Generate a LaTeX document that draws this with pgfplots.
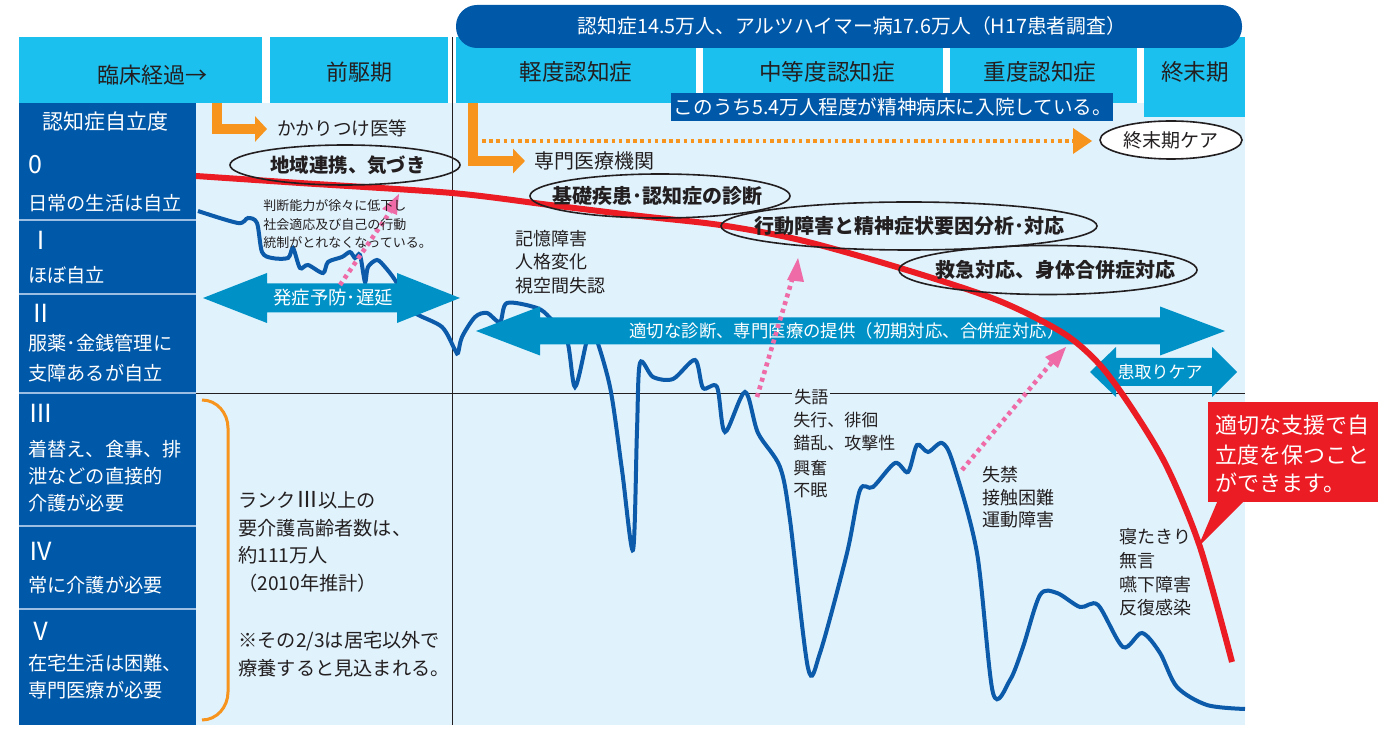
\documentclass[border=0pt]{standalone}
\usepackage{pgfplots}
\pgfplotsset{compat=1.18}
\usepackage{fontspec}
\setmainfont{Noto Sans CJK JP}
\usetikzlibrary{shapes.geometric,arrows.meta}
\definecolor{hcyan}{HTML}{1CC0EF}
\definecolor{dblue}{HTML}{0058A8}
\definecolor{lbg}{HTML}{E0F2FC}
\definecolor{ablue}{HTML}{0092C7}
\definecolor{cblue}{HTML}{0B5BAA}
\definecolor{rred}{HTML}{EC1C24}
\definecolor{orng}{HTML}{F7941D}
\definecolor{pnk}{HTML}{EF6BA8}
\definecolor{txt}{HTML}{231F20}
\definecolor{sep}{HTML}{9DBEE3}
\newcommand{\fs}[1]{\fontsize{#1}{#1}\selectfont}
\begin{document}
\begin{tikzpicture}
\begin{axis}[scale only axis, width=698.5pt, height=365.5pt,
  xmin=0, xmax=1397, ymin=0, ymax=731, y dir=reverse,
  hide axis, clip=false]
\path (0,0) rectangle (1397,731);
% backgrounds
\fill[lbg] (196,103) rectangle (1245,725);
\fill[dblue] (19,103) rectangle (196,725);
\draw[sep, line width=1pt] (19,220) -- (196,220);
\draw[sep, line width=1pt] (19,294) -- (196,294);
\draw[sep, line width=1pt] (19,393) -- (196,393);
\draw[sep, line width=1pt] (19,526) -- (196,526);
\draw[sep, line width=1pt] (19,609) -- (196,609);
% header boxes
\fill[hcyan] (19,37) rectangle (262,103);
\fill[hcyan] (270,37) rectangle (448,103);
\fill[hcyan] (456,37) rectangle (696,103);
\fill[hcyan] (703,37) rectangle (943,103);
\fill[hcyan] (950,37) rectangle (1137,103);
\fill[hcyan] (1144,37) rectangle (1245,117);
\fill[dblue, rounded corners=10.5pt] (456,5) rectangle (1242,48);
\fill[dblue] (671,93) rectangle (1113,121);
% grid lines
\draw[txt, line width=0.5pt] (452,37) -- (452,725);
\draw[txt, line width=0.5pt] (196,394) -- (1245,394);
% header texts
\node[txt, font=\fs{11}] at (152,75) {臨床経過→};
\node[txt, font=\fs{11}] at (359,72) {前駆期};
\node[txt, font=\fs{11.3}] at (576,72) {軽度認知症};
\node[txt, font=\fs{11.3}] at (827,72) {中等度認知症};
\node[txt, font=\fs{11.3}] at (1040,72) {重度認知症};
\node[txt, font=\fs{11.3}] at (1195,72) {終末期};
\node[white, font=\fs{9.9}] at (852,26) {認知症14.5万人、アルツハイマー病17.6万人（H17患者調査）};
\node[white, font=\fs{9.8}] at (893,107) {このうち5.4万人程度が精神病床に入院している。};
% left column
\node[white, font=\fs{10.5}] at (105,122) {認知症自立度};
\begin{scope}[every node/.style={white, anchor=west, inner sep=0pt, font=\fs{9.6}}]
\node at (28,165) {\fs{12.5}0};
\node at (28,203) {日常の生活は自立};
\node at (28,240) {\fs{12.5}Ⅰ};
\node at (28,275) {ほぼ自立};
\node at (28,313) {\fs{12.5}Ⅱ};
\node at (28,343) {服薬･金銭管理に};
\node at (28,373) {支障あるが自立};
\node at (28,413) {\fs{12.5}Ⅲ};
\node at (28,449) {着替え、食事、排};
\node at (28,476) {泄などの直接的};
\node at (28,503) {介護が必要};
\node at (28,551) {\fs{12.5}Ⅳ};
\node at (28,585) {常に介護が必要};
\node at (28,631) {\fs{12.5}Ⅴ};
\node at (28,663) {在宅生活は困難、};
\node at (28,690) {専門医療が必要};
\end{scope}
% orange elements
\draw[orng, line width=5pt, -{Triangle[width=12.5pt,length=6pt]}] (217,103) -- (217,129) -- (267,129);
\draw[orng, line width=5pt, -{Triangle[width=12pt,length=6pt]}] (473,103) -- (473,161) -- (525,161);
\draw[orng, line width=2pt, dash pattern=on 1.8pt off 1.8pt] (482,141) -- (1076,141);
\fill[orng] (1073,128) -- (1092,141) -- (1073,154) -- cycle;
\draw[orng, line width=1.5pt] (202,400) to[out=0,in=90] (228,428) -- (228,692) to[out=-90,in=0] (202,720);
% blue curve
\addplot[cblue, line width=2pt, smooth, tension=0.5] coordinates {
(198,211) (238,223) (248,218) (257,223) (262,252) (272,258) (288,258) (293,248) (300,268) (308,265) (323,273) (328,262) (342,257) (350,252) (355,258) (360,255) (365,282) (368,267) (377,260) (385,267) (395,280) (405,298) (415,313) (442,327) (455,350) (458,353) (462,337) (475,317) (487,313) (500,322) (507,303) (537,308) (550,318) (567,340) (575,387) (587,340) (593,330) (610,387) (622,470) (633,550) (637,430) (640,363) (653,377) (673,379) (695,360) (703,388) (717,387) (725,432) (745,392) (758,433) (780,467) (790,520) (808,668) (820,653) (847,553) (860,490) (873,487) (895,463) (908,472) (917,445) (928,452) (942,443) (953,463) (977,553) (993,693) (1010,680) (1023,647) (1040,595) (1057,593) (1080,607) (1098,605) (1123,647) (1142,633) (1160,653) (1177,687) (1207,705) (1245,709)
};
% big blue arrows
\fill[ablue] (203,298) -- (267,273) -- (267,283.5) -- (397,283.5) -- (397,273) -- (460,298) -- (397,323) -- (397,312.5) -- (267,312.5) -- (267,323) -- cycle;
\fill[ablue] (476,331) -- (540,306.5) -- (540,317.5) -- (1160,317.5) -- (1160,306.5) -- (1225,331) -- (1160,355.5) -- (1160,344.5) -- (540,344.5) -- (540,355.5) -- cycle;
\fill[ablue] (1090,372) -- (1116,347) -- (1116,358) -- (1212,358) -- (1212,347) -- (1237,372) -- (1212,397) -- (1212,386) -- (1116,386) -- (1116,397) -- cycle;
\node[white, font=\fs{9.2}] at (333,298) {発症予防･遅延};
\node[white, font=\fs{8.7}] at (847,331) {適切な診断、専門医療の提供（初期対応、合併症対応）};
\node[white, font=\fs{8.5}] at (1160,372) {患取りケア};
% pink dotted arrows
\draw[pnk, line width=2.3pt, dash pattern=on 2pt off 2pt] (340,285) -- (390,212);
\draw[pnk, line width=2.3pt, dash pattern=on 2pt off 2pt] (757,397) -- (792,280);
\draw[pnk, line width=2.3pt, dash pattern=on 2pt off 2pt] (962,470) -- (1052,362);
\fill[pnk] (399,194) -- (382,209) -- (397,215) -- cycle;
\fill[pnk] (798,258) -- (787,280) -- (804,282) -- cycle;
\fill[pnk] (1066,347) -- (1045,357) -- (1058,368) -- cycle;
% red curve
\addplot[rred, line width=3pt, smooth, tension=0.5] coordinates {
(196,176) (300,183) (452,193) (550,205) (640,216) (720,225) (800,240) (900,268) (997,300) (1063,333) (1100,365) (1133,410) (1167,467) (1200,547) (1232,662)
};
% ellipses
\node[draw=txt, line width=0.8pt, ellipse, minimum width=115pt, minimum height=20pt, inner sep=0pt] at (345,165) {};
\node[draw=txt, line width=0.8pt, ellipse, minimum width=130pt, minimum height=22pt, inner sep=0pt] at (660,196) {};
\node[draw=txt, line width=0.8pt, ellipse, minimum width=188pt, minimum height=24pt, inner sep=0pt] at (909,226) {};
\node[draw=txt, line width=0.8pt, ellipse, minimum width=149pt, minimum height=24.5pt, inner sep=0pt] at (1048,270) {};
\node[draw=txt, fill=white, line width=0.8pt, ellipse, minimum width=71pt, minimum height=19pt, inner sep=0pt] at (1171,140) {};
\node[txt, font=\fs{9.7}\bfseries] at (348,165) {地域連携、気づき};
\node[txt, font=\fs{10}\bfseries] at (657,196) {基礎疾患･認知症の診断};
\node[txt, font=\fs{10}\bfseries] at (909,226) {行動障害と精神症状要因分析･対応};
\node[txt, font=\fs{10}\bfseries] at (1055,270) {救急対応、身体合併症対応};
\node[txt, font=\fs{9.5}] at (1171,140) {終末期ケア};
% annotation texts
\node[txt, anchor=west, font=\fs{9.3}] at (270,128) {かかりつけ医等};
\node[txt, anchor=west, font=\fs{10}] at (527,161) {専門医療機関};
\begin{scope}[every node/.style={txt, anchor=west, inner sep=0pt}]
\node[font=\fs{6.5}] at (263,206) {判断能力が徐々に低下し};
\node[font=\fs{6.5}] at (263,225) {社会適応及び自己の行動};
\node[font=\fs{6.5}] at (263,243) {統制がとれなくなっている。};
\node[font=\fs{9}] at (515,239) {記憶障害};
\node[font=\fs{9}] at (515,262) {人格変化};
\node[font=\fs{9}] at (515,286) {視空間失認};
\node[font=\fs{8.5}, fill=lbg, inner sep=1pt] at (792,397) {失語};
\node[font=\fs{8.5}] at (793,420) {失行、徘徊};
\node[font=\fs{8.5}] at (793,443) {錯乱、攻撃性};
\node[font=\fs{8.5}] at (793,468) {興奮};
\node[font=\fs{8.5}] at (793,490) {不眠};
\node[font=\fs{9}] at (982,475) {失禁};
\node[font=\fs{9}] at (982,498) {接触困難};
\node[font=\fs{9}] at (982,520) {運動障害};
\node[font=\fs{9}] at (1119,537) {寝たきり};
\node[font=\fs{9}] at (1119,561) {無言};
\node[font=\fs{9}] at (1119,585) {嚥下障害};
\node[font=\fs{9}] at (1119,608) {反復感染};
\node[font=\fs{9.6}] at (238,500) {ランク\fs{11}Ⅲ\fs{9.6}以上の};
\node[font=\fs{9.6}] at (238,528) {要介護高齢者数は、};
\node[font=\fs{9.6}] at (238,555) {約111万人};
\node[font=\fs{9.6}] at (238,583) {（2010年推計）};
\node[font=\fs{9.6}] at (238,641) {※その2/3は居宅以外で};
\node[font=\fs{9.6}] at (238,668) {療養すると見込まれる。};
\end{scope}
% red callout
\fill[rred] (1208,402) rectangle (1378,502);
\fill[rred] (1218,500) -- (1245,500) -- (1198,547) -- cycle;
\node[white, anchor=west, inner sep=0pt, font=\fs{11}] at (1215,425) {適切な支援で自};
\node[white, anchor=west, inner sep=0pt, font=\fs{11}] at (1215,455) {立度を保つこと};
\node[white, anchor=west, inner sep=0pt, font=\fs{11}] at (1215,483) {ができます。};
\end{axis}
\end{tikzpicture}
\end{document}
